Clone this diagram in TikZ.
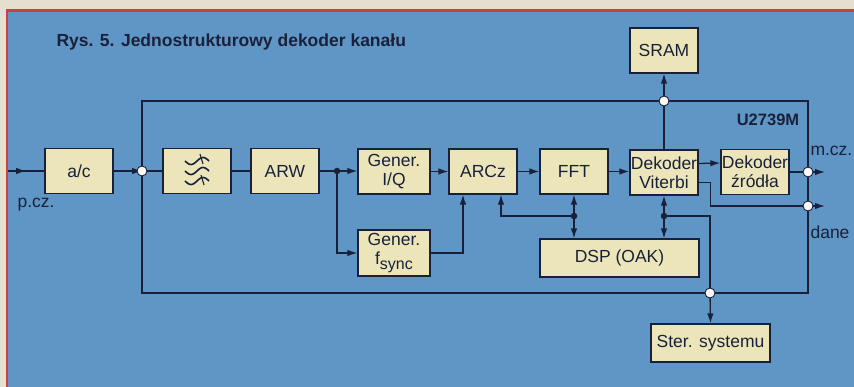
\documentclass[tikz,border=0pt]{standalone}
\usepackage{fontspec}
\setmainfont{Liberation Sans}
\usetikzlibrary{arrows.meta,decorations.markings}

\definecolor{tlo}{RGB}{228,223,207}
\definecolor{niebo}{RGB}{96,150,197}
\definecolor{piasek}{RGB}{236,229,186}
\definecolor{linia}{RGB}{25,33,58}
\definecolor{ramka}{RGB}{208,62,56}

\begin{document}
\begin{tikzpicture}[x=1pt, y=-1pt,
  blok/.style={draw=linia, line width=1.2pt, fill=piasek, minimum width=68pt,
               minimum height=45pt, inner sep=1pt, align=center, text=linia,
               font=\fontsize{17.5}{19}\selectfont},
  strz/.style={-{Latex[length=10pt,width=6.5pt]}, line width=1.3pt, draw=linia},
  lin/.style={line width=1.3pt, draw=linia},
  wstrz/.style={lin, postaction={decorate}, decoration={markings,
               mark=at position #1 with {\arrow{Latex[length=10pt,width=6.5pt]}}}},
  wezel/.style={circle, draw=linia, line width=0.9pt, fill=white!85!tlo,
                inner sep=0pt, minimum size=10pt},
  kropka/.style={circle, fill=linia, inner sep=0pt, minimum size=6.5pt},
  opis/.style={text=linia, font=\fontsize{17.5}{19}\selectfont},
]
\useasboundingbox (0,0) rectangle (854,387);
% Background and frame
\fill[tlo] (0,0) rectangle (854,387);
\fill[niebo] (8,12) rectangle (854,387);
\draw[ramka, line width=2.5pt] (7,387) -- (7,10.5) -- (854,10.5);
% Chip outline
\draw[linia, line width=2.4pt] (142,101) rectangle (808,293);
% Labels
\node[opis, font=\fontsize{17.5}{19}\selectfont\bfseries, anchor=west]
      (tytul) at (53,42) {Rys. 5. Jednostrukturowy dekoder kanału};
\node[opis, font=\fontsize{16.5}{18}\selectfont\bfseries] (uklad) at (768,120) {U2739M};
\node[opis] (pcz)  at (36,205) {p.cz.};
\node[opis, anchor=west] (mczl)  at (807,151) {m.cz.};
\node[opis, anchor=west] (danel) at (807,232) {dane};
% Nodes
\node[blok]                      (ac)      at (79,171)    {a/c};
\node[blok]                      (filtr)   at (197,171)   {};
\node[blok]                      (arw)     at (285,171)   {ARW};
\node[blok, minimum width=72pt]  (geniq)   at (394,171.5) {Gener.\\I/Q};
\node[blok]                      (arcz)    at (483,171.5) {ARCz};
\node[blok]                      (fft)     at (574,171.5) {FFT};
\node[blok]                      (viterbi) at (664,172.5) {Dekoder\\Viterbi};
\node[blok]                      (zrodla)  at (755,172)   {Dekoder\\źródła};
\node[blok]                      (sram)    at (664,50.5)  {SRAM};
\node[blok, minimum width=72pt, minimum height=46pt]
                                 (gensync) at (394,253)
      {Gener.\\f\raisebox{-5pt}{\fontsize{16}{16}\selectfont sync}};
\node[blok, minimum width=159pt, minimum height=38pt]
                                 (dsp)     at (619.5,258) {DSP (OAK)};
\node[blok, minimum width=119pt, minimum height=38pt]
                                 (ster)    at (710.5,343) {Ster. systemu};
% Filter symbol
\foreach \dy in {-10,0,10}
  \draw[linia, line width=1.6pt, shift={(filtr.center)}]
       plot[domain=-12:12, samples=41, smooth] (\x, {\dy - 3.5*sin(15*\x)});
\draw[linia, line width=1.1pt] ([shift={(3,-17)}]filtr.center) -- ++(3,10);
\draw[linia, line width=1.1pt] ([shift={(4,4)}]filtr.center) -- ++(3,10);
% Junctions
\coordinate (wej)  at (8,171);
\coordinate (mcz)  at (825,172);
\coordinate (dane) at (825,206);
\node[kropka] (d_arw) at (337,171) {};
\node[kropka] (d_fft) at (574,216) {};
\node[kropka] (d_vit) at (664,216) {};
% Arrows
\draw[wstrz=0.5] (wej) -- (ac);
\draw[strz] (ac) -- (142,171);
\draw[lin]  (142,171) -- (filtr);
\draw[lin]  (filtr) -- (arw);
\draw[lin]  (arw) -- (d_arw);
\draw[strz] (d_arw) -- (geniq.west |- d_arw);
\draw[strz] (d_arw) |- (gensync);
\draw[strz] (geniq.east |- arcz) -- (arcz);
\draw[strz] (arcz) -- (fft);
\draw[strz] (fft) -- (viterbi.west |- fft);
\draw[strz] ([yshift=9pt]viterbi.east) -- ([yshift=9pt]zrodla.west);
\draw[lin]  (viterbi.north) -- (664,101);
\draw[strz] (664,101) -- (sram.south);
\draw[lin]  (zrodla) -- (808,172);
\draw[strz] (808,172) -- (mcz);
\draw[lin]  ([yshift=-10pt]viterbi.east) -- ++(12,0) |- (808,206);
\draw[strz] (808,206) -- (dane);
\draw[strz] (gensync.east) -| ([xshift=-20pt]arcz.south);
\draw[strz] (d_fft) -| ([xshift=18pt]arcz.south);
\draw[strz] (d_fft) -- (fft.south);
\draw[strz] (d_fft) -- (d_fft |- dsp.north);
\draw[strz] (d_vit) -- (viterbi.south);
\draw[strz] (d_vit) -- (d_vit |- dsp.north);
\draw[lin]  (d_vit) -| (710,293);
\draw[strz] (710,293) -- (ster.north);
% Open junctions on the chip outline
\node[wezel] (j_in)   at (142,171) {};
\node[wezel] (j_sram) at (664,101) {};
\node[wezel] (j_mcz)  at (808,172) {};
\node[wezel] (j_dane) at (808,206) {};
\node[wezel] (j_ster) at (710,293) {};
\end{tikzpicture}
\end{document}
